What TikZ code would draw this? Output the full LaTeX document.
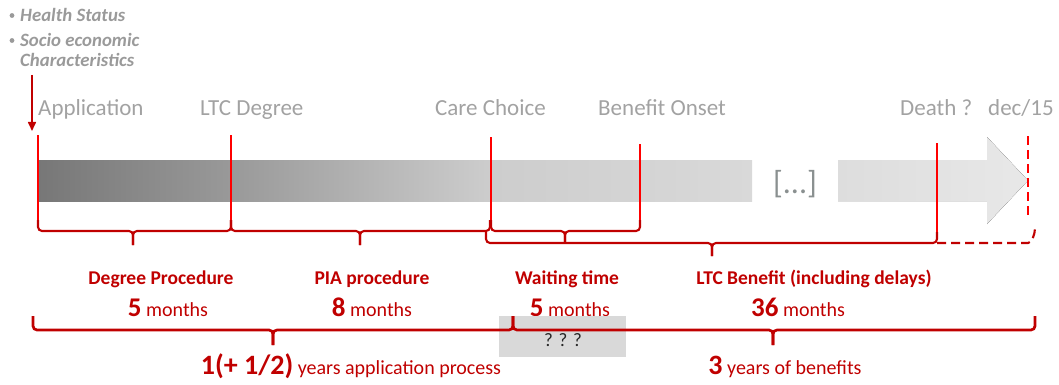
\documentclass[tikz,border=0pt]{standalone}
\usepackage{fontspec}
\setmainfont{Carlito}
\usetikzlibrary{arrows.meta}

\definecolor{ltcred}{HTML}{C00000}
\definecolor{markred}{HTML}{FF0000}
\definecolor{labelgray}{HTML}{A2A2A2}
\definecolor{notegray}{HTML}{9A9A9A}
\definecolor{dotsgray}{HTML}{8A9090}
\definecolor{boxgray}{HTML}{D9D9D9}
\definecolor{bar0}{HTML}{777777}
\definecolor{bar1}{HTML}{999999}
\definecolor{bar2}{HTML}{CDCDCD}
\definecolor{bar3}{HTML}{D9D9D9}
\definecolor{bar4}{HTML}{DDDDDD}
\definecolor{bar5}{HTML}{E8E8E8}

% time axis: dark at the application, fading towards the benefit period
\pgfdeclarehorizontalshading{timeshade}{100bp}{color(0bp)=(bar0); color(25bp)=(bar0);
  color(38.5bp)=(bar1); color(56.7bp)=(bar2); color(75bp)=(bar3); color(100bp)=(bar3)}

\tikzset{
  event/.style={text=labelgray, font=\fontsize{23}{27}\selectfont, anchor=base west, inner sep=0pt},
  note/.style={text=notegray, font=\fontsize{18.8}{21}\selectfont\bfseries\itshape, anchor=base west, inner sep=0pt},
  phase/.style={text=ltcred, font=\fontsize{19.5}{23}\selectfont\bfseries, anchor=base, inner sep=0pt},
  span/.style={text=ltcred, font=\fontsize{20}{24}\selectfont, anchor=base, inner sep=0pt},
  marker/.style={draw=markred, line width=2.6pt},
  brace/.style={draw=ltcred, line width=2.1pt, rounded corners=4pt},
  bigbrace/.style={draw=ltcred, line width=2.7pt, rounded corners=4pt},
}
\newcommand\num[1]{{\fontsize{27}{30}\selectfont\bfseries #1}}
% brace: ends x1,x2 rising to yend, bar at yh, tip at xm down to ytip
\newcommand\spanbrace[7]{%
  \draw[#1] (#2,#5) |- (#4,#6) -- (#4,#7);
  \draw[#1] (#3,#5) |- (#4,#6) -- (#4,#7);}

\begin{document}
\begin{tikzpicture}[x=1pt,y=-1pt]
\useasboundingbox (0,0) rectangle (1059,385);

% applicant characteristics
\fill[notegray] (12,15.5) circle (2.4);
\fill[notegray] (12,40.5) circle (2.4);
\node[note] (health) at (20,21.5) {Health Status};
\node[note] (socio) at (20,46.5) {Socio economic};
\node[note] (charac) at (20,66.5) {Characteristics};
\coordinate (inflow) at (32,75);
\coordinate (inflowend) at (32,131);
\draw[ltcred, line width=1.6pt, -{Triangle[length=9pt,width=8pt]}] (inflow) -- (inflowend);

% time axis
\fill[shading=timeshade] (38,160) rectangle (752,201);
\fill[left color=bar4, right color=bar5] (838,160) -- (987,160) -- (987,137) -- (1028,180.5)
  -- (987,224) -- (987,201) -- (838,201) -- cycle;
\node[text=dotsgray, font=\fontsize{32}{36}\selectfont, inner sep=0pt] (gap) at (795,184) {[...]};

% events
\node[event] (application) at (38,115) {Application};
\node[event] (degree) at (200,115) {LTC Degree};
\node[event] (choice) at (435,115) {Care Choice};
\node[event] (onset) at (598,115) {Benefit Onset};
\node[event] (death) at (900,115) {Death ?};
\node[event] (dec) at (988,115) {dec/15};

% event markers
\coordinate (mApp) at (38,135);   \coordinate (mAppB) at (38,222);
\coordinate (mDeg) at (231,135);  \coordinate (mDegB) at (231,222);
\coordinate (mCare) at (491,137); \coordinate (mCareB) at (491,222);
\coordinate (mOnset) at (640,144); \coordinate (mOnsetB) at (640,222);
\coordinate (mDeath) at (937,143); \coordinate (mDeathB) at (937,232);
\coordinate (mDec) at (1028,136); \coordinate (mDecB) at (1028,216);
\draw[marker] (mApp) -- (mAppB);
\draw[marker] (mDeg) -- (mDegB);
\draw[marker] (mCare) -- (mCareB);
\draw[marker] (mOnset) -- (mOnsetB);
\draw[marker] (mDeath) -- (mDeathB);
\draw[marker, dashed, dash pattern=on 9pt off 5pt] (mDec) -- (mDecB);

% phase braces
\spanbrace{brace}{38}{231}{133}{220}{231}{245}
\spanbrace{brace}{231}{490}{360}{220}{231}{245}
\spanbrace{brace}{491}{640}{565}{220}{231}{243}
\spanbrace{brace}{486}{937}{712}{232}{243}{256}
\draw[brace, dashed, dash pattern=on 9pt off 5pt] (937,243) -- (1024,243) to[out=0,in=-90] (1035,228);

% phase labels
\node[phase] (pDeg) at (161,284) {Degree Procedure};
\node[span] (tDeg) at (168,316) {\num{5} months};
\node[phase] (pPia) at (372,284) {PIA procedure};
\node[span] (tPia) at (372,316) {\num{8} months};
\node[phase] (pWait) at (567,284) {Waiting time};
\node[span] (tWait) at (570,316) {\num{5} months};
\node[phase] (pBen) at (814,284) {LTC Benefit (including delays)};
\node[span] (tBen) at (798,316) {\num{36} months};

% overlap of the two periods
\fill[boxgray] (499,316) rectangle (626,357);
\node[text=black!85, font=\fontsize{19}{21}\selectfont, anchor=base, inner sep=0pt] (unknown) at (563,346) {? ? ?};

% period braces
\spanbrace{bigbrace}{33}{513}{273}{316}{330}{345}
\spanbrace{bigbrace}{513}{1035}{773}{316}{330}{345}
\node[span] (yApp) at (351,374) {{\fontsize{28}{30}\selectfont\bfseries 1(+ 1/2)} years application process};
\node[span] (yBen) at (785,374) {{\fontsize{28}{30}\selectfont\bfseries 3} years of benefits};
\end{tikzpicture}
\end{document}
